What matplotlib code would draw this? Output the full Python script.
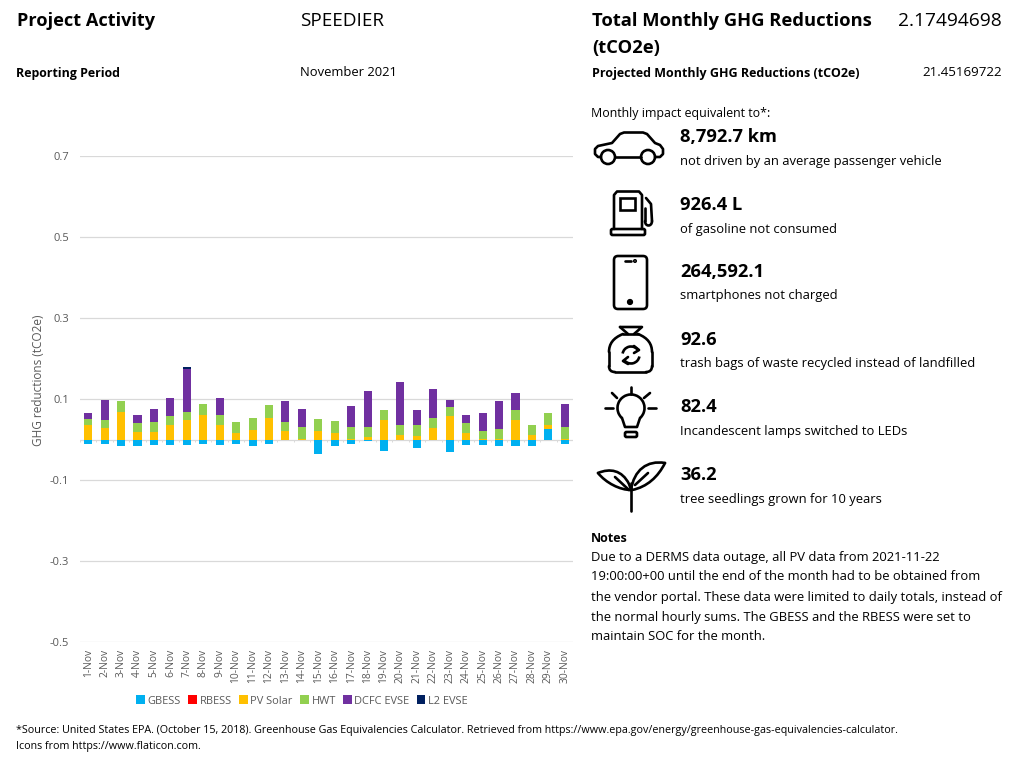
import numpy as np
import matplotlib
matplotlib.use("Agg")
import matplotlib.pyplot as plt
from matplotlib.path import Path
from matplotlib.patches import PathPatch, Circle, FancyBboxPatch, Rectangle, Arc

plt.rcParams['font.family'] = ['Open Sans', 'DejaVu Sans']

days = [f"{d}-Nov" for d in range(1, 31)]
gbess = [-.011,-.011,-.015,-.015,-.013,-.013,-.013,-.011,-.013,-.011,-.015,-.011,0,0,-.035,
         -.017,-.012,-.003,-.028,0,-.020,0,-.030,-.014,-.013,-.017,-.015,-.015,.025,-.011]
rbess = [0]*30
pv = [.035,.028,.069,.018,.019,.035,.048,.061,.037,.015,.024,.054,.020,.001,.021,
      .015,.002,.006,.047,.011,.009,.028,.057,.017,.002,.002,.048,.011,.012,.001]
hwt = [.015,.020,.027,.022,.025,.024,.021,.026,.024,.029,.030,.031,.023,.030,.029,
       .031,.028,.024,.026,.025,.026,.025,.023,.024,.018,.024,.026,.026,.029,.031]
dcfc = [.015,.050,0,.020,.032,.043,.104,0,.042,0,0,0,.053,.045,0,
        0,.053,.089,0,.105,.037,.071,.018,.019,.046,.070,.041,0,0,.056]
l2 = [0,0,0,0,0,0,.005]+[0]*23
series = [("GBESS", gbess, "#00B0F0"), ("RBESS", rbess, "#FF0000"), ("PV Solar", pv, "#FFC000"),
          ("HWT", hwt, "#92D050"), ("DCFC EVSE", dcfc, "#7030A0"), ("L2 EVSE", l2, "#002060")]
yticks = [-0.5, -0.3, -0.1, 0.1, 0.3, 0.5, 0.7]

W, H = 1024, 757
fig = plt.figure(figsize=(W/100, H/100), dpi=100)
L, R, T, B = 80, 573, 156, 642
ax = fig.add_axes([L/W, 1-B/H, (R-L)/W, (B-T)/H])
x = np.arange(30)
pos = np.zeros(30); neg = np.zeros(30)
for name, vals, col in series:
    v = np.array(vals, float)
    base = np.where(v >= 0, pos, neg)
    ax.bar(x, v, 0.49, bottom=base, color=col, label=name, zorder=3, linewidth=0)
    pos += np.where(v >= 0, v, 0); neg += np.where(v < 0, v, 0)
ax.set_xlim(-0.5, 29.5); ax.set_ylim(-0.5, 0.7)
ax.set_yticks(yticks); ax.set_yticklabels([f"{t:.1f}" for t in yticks], fontsize=8, color="#595959")
ax.set_xticks(x); ax.set_xticklabels(days, rotation=90, fontsize=7.4, color="#595959")
ax.tick_params(length=0, axis='both'); ax.tick_params(axis='x', pad=5); ax.tick_params(axis='y', pad=8)
ax.grid(axis='y', color="#D9D9D9", lw=0.9, zorder=0)
ax.axhline(0, color="#D9D9D9", lw=0.9, zorder=1)
ax.vlines(np.arange(31)-0.5, -0.006, 0, color="#D9D9D9", lw=0.7, zorder=1)
for s in ax.spines.values():
    s.set_visible(False)
ax.set_ylabel("GHG reductions (tCO2e)", fontsize=8.5, color="#595959")
ax.yaxis.set_label_coords((45-L)/(R-L), (B-380)/(B-T))
ax.legend(loc='center', bbox_to_anchor=((302-L)/(R-L), (B-701)/(B-T)), ncol=6, frameon=False, fontsize=7.9,
          labelcolor="#595959", handlelength=0.8, handleheight=0.8, handletextpad=0.25, columnspacing=0.65,
          borderpad=0, borderaxespad=0)

ov = fig.add_axes([0, 0, 1, 1], zorder=5)
ov.set_xlim(0, W); ov.set_ylim(H, 0); ov.axis('off'); ov.patch.set_alpha(0)

def t(px, py, s, size=9.4, bold=False, ha='left'):
    ov.text(px, py+1, s, fontsize=size, fontweight='bold' if bold else 'normal', ha=ha, va='center', color="#000000")

t(17, 20, "Project Activity", 13.1, True)
t(300, 20, "SPEEDIER", 13.6)
t(592, 20, "Total Monthly GHG Reductions", 13.25, True)
t(592, 47, "(tCO2e)", 13.25, True)
t(1002, 20, "2.17494698", 13.8, ha='right')
t(16, 72, "Reporting Period", 8.95, True)
t(300, 72, "November 2021", 9.4)
t(592, 72, "Projected Monthly GHG Reductions (tCO2e)", 9.0, True)
t(1002, 72, "21.45169722", 9.6, ha='right')
t(591, 112, "Monthly impact equivalent to*:", 8.9)
impact = [("8,792.7 km", "not driven by an average passenger vehicle", 136, 160),
          ("926.4 L", "of gasoline not consumed", 204, 228),
          ("264,592.1", "smartphones not charged", 271, 295),
          ("92.6", "trash bags of waste recycled instead of landfilled", 339, 363),
          ("82.4", "Incandescent lamps switched to LEDs", 406, 430),
          ("36.2", "tree seedlings grown for 10 years", 474, 498)]
for big, small, y1, y2 in impact:
    t(680, y1, big, 13.25, True)
    t(680, y2, small, 9.4)
t(591, 537, "Notes", 9, True)
notes = ["Due to a DERMS data outage, all PV data from 2021-11-22",
         "19:00:00+00 until the end of the month had to be obtained from",
         "the vendor portal. These data were limited to daily totals, instead of",
         "the normal hourly sums. The GBESS and the RBESS were set to",
         "maintain SOC for the month."]
for ny, line_ in zip([556, 576, 596, 616, 635], notes):
    t(591, ny, line_, 9.4)
t(16, 730, "*Source: United States EPA. (October 15, 2018). Greenhouse Gas Equivalencies Calculator. Retrieved from https://www.epa.gov/energy/greenhouse-gas-equivalencies-calculator.", 7.71)
t(16, 746, "Icons from https://www.flaticon.com.", 7.71)

# ---- icons, drawn in pixel space ----
LW = 1.9
ik = dict(color='k', lw=LW, solid_capstyle='round', solid_joinstyle='round')
def line(*pts):
    xs, ys = zip(*pts); ov.plot(xs, ys, **ik)
def curve(*pts):
    codes = [Path.MOVETO] + [Path.CURVE4]*(len(pts)-1)
    ov.add_patch(PathPatch(Path(pts, codes), fc='none', ec='k', lw=LW, capstyle='round', joinstyle='round'))
def circ(cx, cy, r, fill=False):
    ov.add_patch(Circle((cx, cy), r, fc='k' if fill else 'none', ec='k', lw=LW))
def rbox(x0, y0, x1, y1, rad=3):
    ov.add_patch(FancyBboxPatch((x0+rad, y0+rad), x1-x0-2*rad, y1-y0-2*rad, boxstyle=f"round,pad={rad},rounding_size={rad}", fc='none', ec='k', lw=LW))

# car
line((601,157),(598,157),(595,154),(595,149),(598,146),(612,143),(620,134),(624,132.5),(643,132.5),(647,134),(655,143),(660,145),(663,149),(663,154),(660,157),(655,157))
line((615,157),(641,157))
circ(608,157,7); circ(648,157,7)
# pump
line((614,229),(614,195),(617,191.5),(639,191.5),(642,195),(642,229))
rbox(611,229,645,235,1.5)
ov.add_patch(Rectangle((620,198),15,12,fc='none',ec='k',lw=LW))
line((646,198),(651,204),(652,221))
curve((652,221),(652,227),(645,227),(645,221))
line((645,221),(645,208))
# phone
rbox(614,256,647,309,4)
line((625,261),(631,261)); circ(635,261,0.7,True); circ(630,302,1.8,True)
# bag
curve((623,334),(613,338),(609,344),(609,352))
line((609,352),(609,366))
curve((609,366),(609,370),(611,372),(615,372))
line((615,372),(646,372))
curve((646,372),(650,372),(652,370),(652,366))
line((652,366),(652,352))
curve((652,352),(652,344),(648,338),(638,334))
line((638,334),(623,334))
line((620,327),(642,327),(634,334)); line((620,327),(628,334))
ov.add_patch(Arc((631,355),17,17,theta1=190,theta2=320,ec='k',lw=LW))
ov.add_patch(Arc((631,355),17,17,theta1=10,theta2=140,ec='k',lw=LW))
line((634,346),(639,350),(634,353)); line((628,357),(623,361),(628,364))
# bulb
ov.add_patch(Arc((631,408),27,27,theta1=130,theta2=50,ec='k',lw=LW))
line((622,418),(625,427),(637,427),(640,418))
rbox(625,432,637,437,1.5)
line((631,387),(631,394)); line((612,393),(617,398)); line((650,393),(644,398)); line((605,408),(613,408)); line((648,408),(656,408))
# plant
line((631,483),(631,511))
curve((598,473),(610,468),(622,470),(629,484),(631,489),(631,490),(631,490))
curve((598,473),(606,483),(620,490),(631,490))
curve((665,463),(647,460),(634,470),(631,490))
curve((665,463),(658,477),(647,487),(632,490))
line((615,477),(629,490)); line((648,473),(635,485))

fig.savefig("out.png", dpi=100)
